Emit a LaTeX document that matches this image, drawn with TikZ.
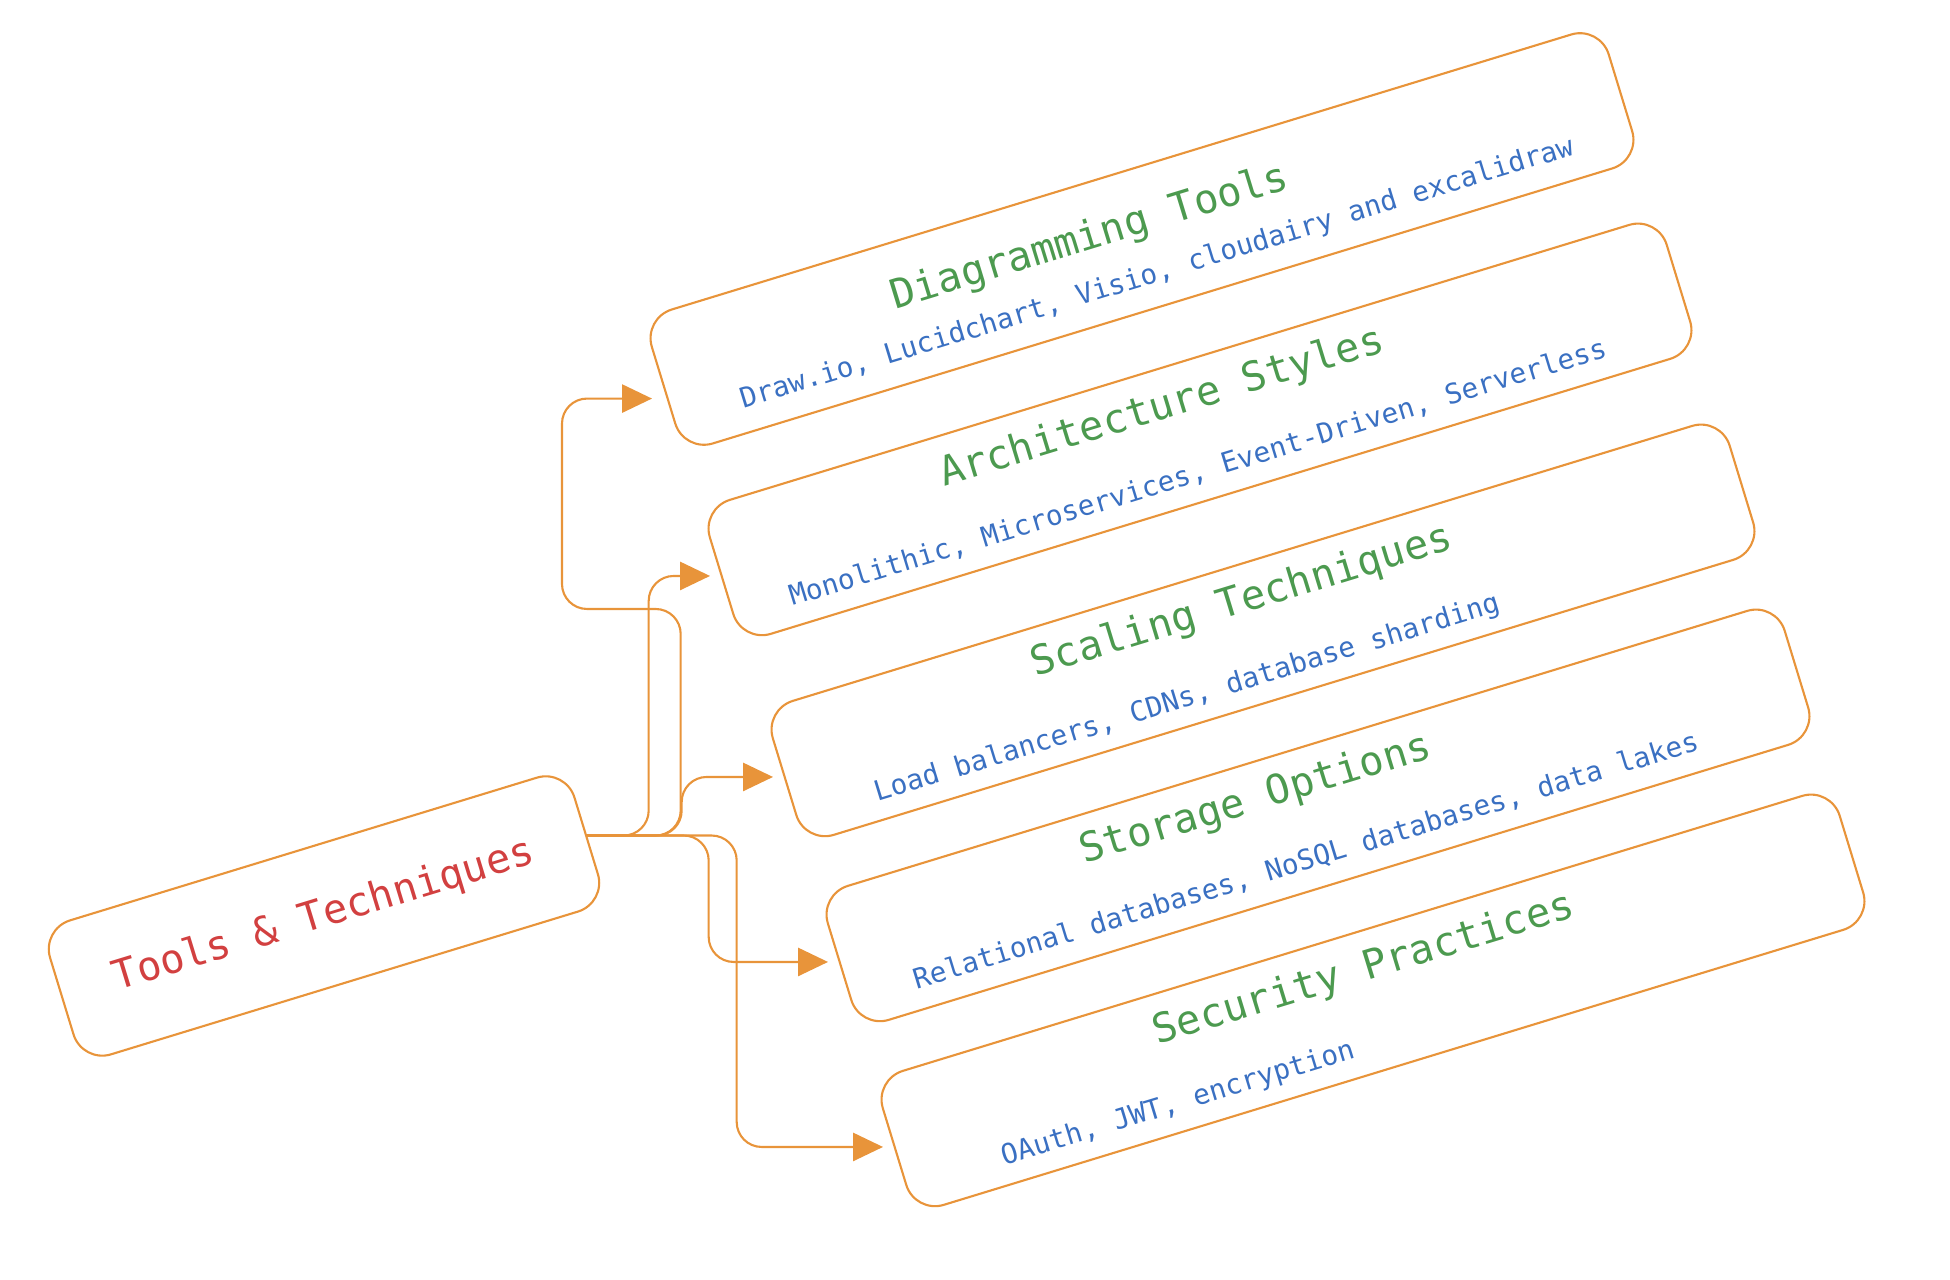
\documentclass[tikz,border=0pt]{standalone}
\usepackage{fontspec}
\setmonofont{DejaVu Sans Mono}
\usetikzlibrary{arrows.meta}

\definecolor{linkorange}{HTML}{E8943A}
\definecolor{titlegreen}{HTML}{4C9A4F}
\definecolor{detailblue}{HTML}{3A70C2}
\definecolor{rootred}{HTML}{D24040}

\begin{document}
\begin{tikzpicture}[x=0.01cm,y=-0.01cm,>={Triangle[length=8.5pt,width=8pt]},
                    semithick]
  \tikzstyle{topic}=[draw=linkorange,rounded corners=0.3cm,rotate=17,
                     minimum width=10cm,minimum height=1.4cm]
  \tikzstyle{rootbox}=[topic,minimum width=5.48cm,text=rootred,
                       font=\ttfamily\fontsize{11.5}{13}\selectfont]
  \tikzstyle{heading}=[rotate=17,inner sep=0pt,text=titlegreen,
                       font=\ttfamily\fontsize{11.5}{13}\selectfont]
  \tikzstyle{detail}=[rotate=17,inner sep=0pt,text=detailblue,
                      font=\ttfamily\fontsize{7.9}{9}\selectfont]
  \tikzstyle{link}=[draw=linkorange,->,rounded corners=0.25cm,shorten >=3pt]

  \useasboundingbox (0,0) rectangle (1950,1280);

  \node[rootbox] (Root)         at (324,916)     {Tools \& Techniques};
  \node[topic]   (Diagramming)  at (1142,239)    {};
  \node[topic]   (Architecture) at (1200,429.4)  {};
  \node[topic]   (Scaling)      at (1263,630.4)  {};
  \node[topic]   (Storage)      at (1318,815.4)  {};
  \node[topic]   (Security)     at (1373,1000.4) {};

  \node[heading] (DiagrammingTitle)  at (1090,238)  {Diagramming Tools};
  \node[detail]  (DiagrammingText)   at (1157,274)  {Draw.io, Lucidchart, Visio, cloudairy and excalidraw};
  \node[heading] (ArchitectureTitle) at (1162,408)  {Architecture Styles};
  \node[detail]  (ArchitectureText)  at (1198,473)  {Monolithic, Microservices, Event-Driven, Serverless};
  \node[heading] (ScalingTitle)      at (1242,602)  {Scaling Techniques};
  \node[detail]  (ScalingText)       at (1187,699)  {Load balancers, CDNs, database sharding};
  \node[heading] (StorageTitle)      at (1256,800)  {Storage Options};
  \node[detail]  (StorageText)       at (1306,861)  {Relational databases, NoSQL databases, data lakes};
  \node[heading] (SecurityTitle)     at (1364,970)  {Security Practices};
  \node[detail]  (SecurityText)      at (1178,1104) {OAuth, JWT, encryption};

  \draw[link] (Root.east) -- ++(93.5,0) |- (562,609) |- ([yshift=-0.13cm]Diagramming.west);
  \draw[link] (Root.east) -- ++(61.5,0) |- (Architecture.west);
  \draw[link] (Root.east) -- ++(94.5,0) |- (Scaling.west);
  \draw[link] (Root.east) -- ++(121.5,0) |- (Storage.west);
  \draw[link] (Root.east) -- ++(149.5,0) |- (Security.west);
\end{tikzpicture}
\end{document}
